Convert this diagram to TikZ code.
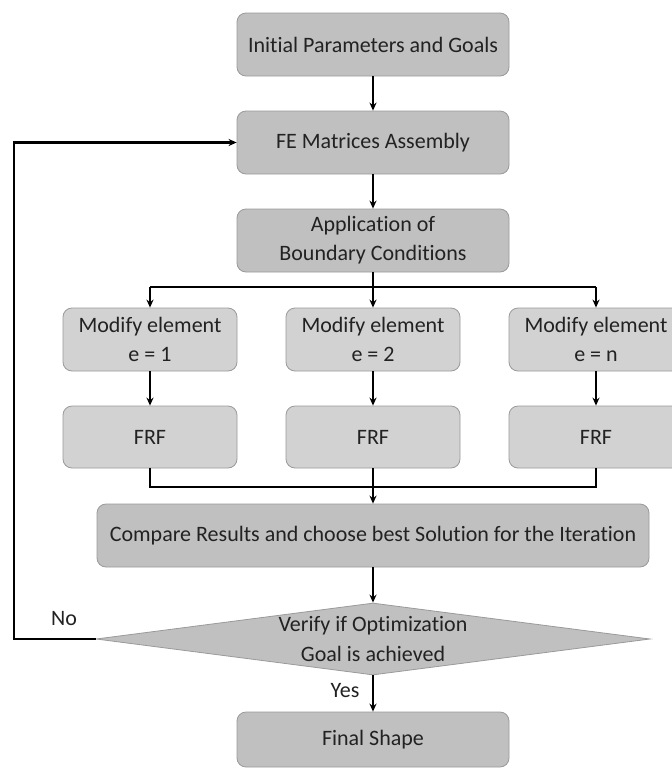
\documentclass[tikz,border=0pt]{standalone}
\usepackage{fontspec}
\setmainfont{Carlito}[Ligatures={NoCommon}]
\usetikzlibrary{arrows.meta,shapes.geometric,calc}
\definecolor{boxdark}{HTML}{C0C0C0}
\definecolor{boxlight}{HTML}{D2D2D2}
\definecolor{boxedge}{HTML}{9A9A9A}
\definecolor{txt}{HTML}{222222}
\begin{document}
\begin{tikzpicture}[x=1pt,y=-1pt,
  box/.style={draw=boxedge,line width=0.8pt,rounded corners=9pt,fill=boxdark,
    inner sep=0pt,align=center,text=txt,
    font=\fontsize{22}{29}\selectfont},
  lbox/.style={box,fill=boxlight,minimum width=174pt,minimum height=63pt},
  wbox/.style={box,minimum width=272pt,minimum height=63pt},
  conn/.style={line width=2.2pt,black},
  arr/.style={conn,-{Stealth[length=8pt,width=7pt]}},
  lab/.style={text=txt,font=\fontsize{22}{26}\selectfont,inner sep=0pt}]
\useasboundingbox (0,0) rectangle (672,769);
\fill[white] (0,0) rectangle (672,769);

\node[wbox] (init) at (373,44.5) {Initial Parameters and Goals};
\node[wbox] (fe) at (373,142.5) {FE Matrices Assembly};
\node[wbox] (app) at (373,240.5) {Application of\\Boundary Conditions};

\node[lbox] (m1) at (150,339.5) {Modify element\\e = 1};
\node[lbox] (m2) at (373,339.5) {Modify element\\e = 2};
\node[lbox] (mn) at (596,339.5) {Modify element\\e = n};

\node[lbox,minimum height=62pt] (f1) at (150,437) {FRF};
\node[lbox,minimum height=62pt] (f2) at (373,437) {FRF};
\node[lbox,minimum height=62pt] (fn) at (596,437) {FRF};

\node[box,minimum width=552pt,minimum height=63pt] (cmp) at (373,535.5)
  {Compare Results and choose best Solution for the Iteration};

\node[diamond,draw=boxedge,line width=0.8pt,fill=boxdark,inner sep=0pt,
  minimum width=554pt,minimum height=72pt] (dec) at (373,639) {};
\node[align=center,text=txt,inner sep=0pt,
  font=\fontsize{22}{30}\selectfont] (dect) at (373,639)
  {Verify if Optimization\\Goal is achieved};

\node[box,minimum width=272pt,minimum height=55pt] (fin) at (373,739.5) {Final Shape};

\node[lab] (no) at (64,619) {No};
\node[lab] (yes) at (345,691) {Yes};

\coordinate (br) at (373,287);
\coordinate (jn) at (373,487);
\coordinate (fb) at (14,639);

% connectors
\draw[arr] (init.south) -- (fe.north);
\draw[arr] (fe.south) -- (app.north);
\draw[conn] (app.south) -- (br);
\draw[conn] (m1.north |- br) -- (mn.north |- br);
\draw[arr] (m1.north |- br) -- (m1.north);
\draw[arr] (br) -- (m2.north);
\draw[arr] (mn.north |- br) -- (mn.north);
\draw[arr] (m1.south) -- (f1.north);
\draw[arr] (m2.south) -- (f2.north);
\draw[arr] (mn.south) -- (fn.north);
\draw[conn] (f1.south) |- (jn);
\draw[conn] (fn.south) |- (jn);
\draw[arr] (f2.south) -- (cmp.north);
\draw[arr] (cmp.south) -- (dec.north);
\draw[arr] (dec.south) -- (fin.north);
\draw[arr] (dec.west) -- (fb) |- (fe.west);
\end{tikzpicture}
\end{document}
